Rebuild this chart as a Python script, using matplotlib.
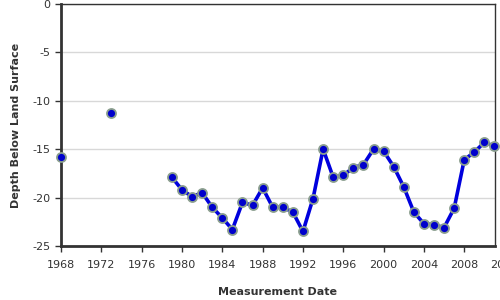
import matplotlib
matplotlib.use('Agg')
import matplotlib.pyplot as plt
import matplotlib.transforms as mtransforms
import numpy as np

# measurement years and depth below land surface (ft)
years = [1968, 1973, 1979, 1980, 1981, 1982, 1983, 1984, 1985, 1986, 1987, 1988,
         1989, 1990, 1991, 1992, 1993, 1994, 1995, 1996, 1997, 1998, 1999, 2000,
         2001, 2002, 2003, 2004, 2005, 2006, 2007, 2008, 2009, 2010, 2011]
depths = [-15.8, -11.3, -17.9, -19.2, -19.9, -19.5, -21.0, -22.1, -23.3, -20.5, -20.8, -19.0,
          -21.0, -21.0, -21.5, -23.5, -20.1, -15.0, -17.9, -17.7, -16.9, -16.6, -15.0, -15.2,
          -16.8, -18.9, -21.5, -22.7, -22.8, -23.1, -21.1, -16.1, -15.3, -14.3, -14.7]
xticks = [1968, 1972, 1976, 1980, 1984, 1988, 1992, 1996, 2000, 2004, 2008]
yticks = [0, -5, -10, -15, -20, -25]

fig = plt.figure(figsize=(5, 3), dpi=100)
ax = fig.add_axes([0.122, 0.18, 0.868, 0.807])

x = np.array(years, dtype=float)
y = np.array(depths)
# break the line where years are not consecutive
xl, yl = [x[0]], [y[0]]
for i in range(1, len(x)):
    if x[i] - x[i - 1] > 1:
        xl.append(np.nan); yl.append(np.nan)
    xl.append(x[i]); yl.append(y[i])

ax.plot(xl, yl, color='#0000dd', linewidth=2.6, zorder=3)
ax.plot(x, y, 'o', color='#0000cc', markersize=6.5, markeredgecolor='#8a9e8e',
        markeredgewidth=1.3, zorder=4, clip_on=False)

ax.set_xlim(1968, 2011.05)
ax.set_ylim(-25, 0)
ax.set_xticks(xticks)
ax.set_yticks(yticks)
ax.set_yticklabels(['0', '-5', '-10', '-15', '-20', '-25'])
# last tick label sits just past the axis end
trans = mtransforms.blended_transform_factory(ax.transData, ax.transAxes)
ax.text(2012, -0.058, '2012', transform=trans, ha='center', va='top',
        fontsize=8, color='#333333', clip_on=False)

ax.grid(axis='y', color='#d8d8d8', linewidth=1)
ax.set_axisbelow(True)
for s in ['left', 'bottom']:
    ax.spines[s].set_linewidth(2)
    ax.spines[s].set_color('#333333')
for s in ['top', 'right']:
    ax.spines[s].set_linewidth(1)
    ax.spines[s].set_color('#333333')
ax.tick_params(axis='both', labelsize=8, colors='#333333', length=4, width=1, direction='out')
ax.tick_params(axis='x', pad=6)

ax.set_xlabel('Measurement Date', fontsize=8, fontweight='bold', color='#333333', labelpad=12)
ax.set_ylabel('Depth Below Land Surface', fontsize=8, fontweight='bold', color='#333333', labelpad=8)

fig.savefig('out.png', dpi=100)
